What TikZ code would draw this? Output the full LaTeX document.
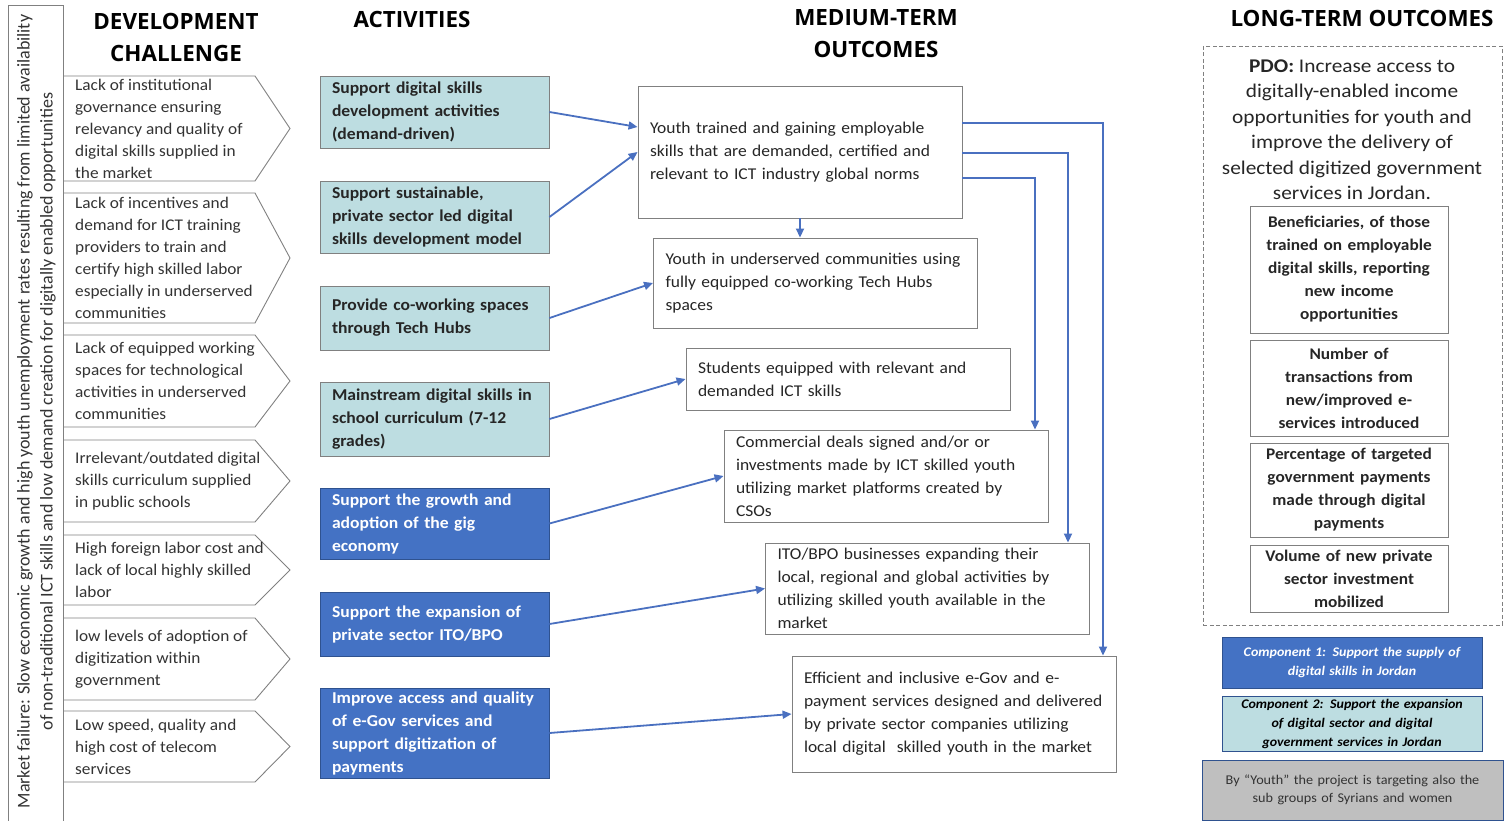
\documentclass[tikz,border=0pt]{standalone}
\usepackage{fontspec}
\setmainfont{Carlito}[FakeStretch=1.06]
\newfontfamily\plainfont{Carlito}
\newfontfamily\hdrfont{Open Sans}
\newfontfamily\widefont{Carlito}[FakeStretch=1.1]
\usetikzlibrary{arrows.meta}
\definecolor{tealfill}{HTML}{BDDDE1}
\definecolor{bluefill}{HTML}{4472C4}
\definecolor{blueedge}{HTML}{2F528F}
\definecolor{arrblue}{HTML}{4A70C0}
\definecolor{txtgray}{HTML}{333333}
\definecolor{txtdark}{HTML}{262626}
\definecolor{edgegray}{HTML}{808080}
\definecolor{notefill}{HTML}{BFBFBF}
\begin{document}
\begin{tikzpicture}[x=1pt,y=-1pt,
  hdr/.style={font=\hdrfont\bfseries\fontsize{22.4}{32}\selectfont, align=center, inner sep=0pt},
  chev/.style={draw=edgegray, line width=0.9pt},
  chtext/.style={align=left, inner xsep=12pt, inner ysep=0pt, text=txtgray, font=\fontsize{16.3}{22}\selectfont},
  act/.style={draw=edgegray, line width=0.9pt, fill=tealfill, minimum width=229pt, text width=205pt, align=left, inner xsep=12pt, inner ysep=0pt, text=txtdark, font=\bfseries\fontsize{16.6}{23}\selectfont},
  actb/.style={act, fill=bluefill, draw=blueedge, text=white},
  med/.style={draw=edgegray, line width=0.9pt, fill=white, text width=300pt, align=left, inner xsep=12pt, inner ysep=0pt, text=txtdark, font=\fontsize{16.5}{23}\selectfont},
  ind/.style={draw=edgegray, line width=0.9pt, minimum width=198pt, text width=194pt, align=center, inner sep=0pt, text=txtdark, font=\bfseries\fontsize{16.3}{23}\selectfont},
  comp/.style={draw=blueedge, line width=0.9pt, minimum width=260pt, text width=256pt, align=center, inner sep=0pt, font=\bfseries\itshape\fontsize{13.2}{19}\selectfont},
  arr/.style={draw=arrblue, line width=1.8pt, -{Triangle[length=9pt,width=8pt]}}
]
\useasboundingbox (0,0) rectangle (1509,821);

% headers
\node[hdr] (h1) at (176,37.5) {DEVELOPMENT\\CHALLENGE};
\node[hdr] (h2) at (412,20) {ACTIVITIES};
\node[hdr] (h3) at (876,34) {MEDIUM-TERM\\OUTCOMES};
\node[hdr] (h4) at (1362,18) {LONG-TERM OUTCOMES};

% market failure box
\node[draw=edgegray, line width=0.9pt, minimum width=55pt, minimum height=830pt, anchor=north west, inner sep=0pt] (mf) at (8,5) {};
\node[rotate=90, align=center, text=txtgray, font=\plainfont\fontsize{18}{23}\selectfont, inner sep=0pt] (mftext) at (36.5,411.5)
 {Market failure: Slow economic growth and high youth unemployment rates resulting from limited availability\\of non-traditional ICT skills and low demand creation for digitally enabled opportunities};

% chevrons
\foreach \t/\b in {76/181,193/323,335/427,440/522,535/605,618/700,711/782}{
  \draw[chev] (63,\t) -- (255,\t) -- (290,{(\t+\b)/2}) -- (255,\b) -- (63,\b);
}
\node[chtext, anchor=west] (c1) at (63,128.5) {Lack of institutional\\governance ensuring\\relevancy and quality of\\digital skills supplied in\\the market};
\node[chtext, anchor=west] (c2) at (63,258) {Lack of incentives and\\demand for ICT training\\providers to train and\\certify high skilled labor\\especially in underserved\\communities};
\node[chtext, anchor=west] (c3) at (63,381) {Lack of equipped working\\spaces for technological\\activities in underserved\\communities};
\node[chtext, anchor=west] (c4) at (63,481) {Irrelevant/outdated digital\\skills curriculum supplied\\in public schools};
\node[chtext, anchor=west] (c5) at (63,570) {High foreign labor cost and\\lack of local highly skilled\\labor};
\node[chtext, anchor=west] (c6) at (63,659) {low levels of adoption of\\digitization within\\government};
\node[chtext, anchor=west] (c7) at (63,746.5) {Low speed, quality and\\high cost of telecom\\services};

% activities
\node[act, minimum height=72pt] (a1) at (434.5,112) {Support digital skills\\development activities\\(demand-driven)};
\node[act, minimum height=72pt] (a2) at (434.5,217) {Support sustainable,\\private sector led digital\\skills development model};
\node[act, minimum height=64pt] (a3) at (434.5,318) {Provide co-working spaces\\through Tech Hubs};
\node[act, minimum height=74pt] (a4) at (434.5,419) {Mainstream digital skills in\\school curriculum (7-12\\grades)};
\node[actb, minimum height=71pt] (a5) at (434.5,523.5) {Support the growth and\\adoption of the gig\\economy};
\node[actb, minimum height=64pt] (a6) at (434.5,624) {Support the expansion of\\private sector ITO/BPO};
\node[actb, minimum height=90pt] (a7) at (434.5,733) {Improve access and quality\\of e-Gov services and\\support digitization of\\payments};

% medium-term outcomes
\node[med, minimum width=324pt, minimum height=132pt] (m1) at (800,152) {Youth trained and gaining employable\\skills that are demanded, certified and\\relevant to ICT industry global norms};
\node[med, minimum width=323pt, minimum height=90pt] (m2) at (815.5,283) {Youth in underserved communities using\\fully equipped co-working Tech Hubs\\spaces};
\node[med, minimum width=324pt, minimum height=62pt] (m3) at (848,379) {Students equipped with relevant and\\demanded ICT skills};
\node[med, minimum width=324pt, minimum height=92pt] (m4) at (886,476) {Commercial deals signed and/or or\\investments made by ICT skilled youth\\utilizing market platforms created by\\CSOs};
\node[med, minimum width=323pt, minimum height=91pt] (m5) at (927.5,588.5) {ITO/BPO businesses expanding their\\local, regional and global activities by\\utilizing skilled youth available in the\\market};
\node[med, minimum width=324pt, minimum height=116pt] (m6) at (954,714) {Efficient and inclusive e-Gov and e-\\payment services designed and delivered\\by private sector companies utilizing\\local digital\ \ skilled youth in the market};

% arrows activities -> outcomes
\draw[arr] (a1.east) -- ([yshift=25pt]m1.west);
\draw[arr] (a2.east) -- (m1.west);
\draw[arr] (a3.east) -- (m2.west);
\draw[arr] (a4.east) -- (m3.west);
\draw[arr] (a5.east) -- (m4.west);
\draw[arr] (a6.east) -- (m5.west);
\draw[arr] (a7.east) -- (m6.west);
\draw[arr] (m1.south) -- (m1.south |- m2.north);
\coordinate (r1) at (1103,123);
\coordinate (r2) at (1068,153);
\coordinate (r3) at (1035,178);
\draw[arr] (m1.east |- r1) -| (m6.north -| r1);
\draw[arr] (m1.east |- r2) -| (m5.north -| r2);
\draw[arr] (m1.east |- r3) -| (m4.north -| r3);

% long-term outcomes
\node[draw=edgegray, line width=0.9pt, dash pattern=on 4pt off 2.5pt, minimum width=299pt, minimum height=579pt, anchor=north west, inner sep=0pt] (lt) at (1203,46) {};
\node[align=center, text=txtdark, inner sep=0pt, font=\widefont\fontsize{19.4}{25.5}\selectfont] (pdo) at (1352,129.5)
 {\textbf{PDO:} Increase access to\\digitally-enabled income\\opportunities for youth and\\improve the delivery of\\selected digitized government\\services in Jordan.};
\node[ind, minimum height=127pt] (i1) at (1349,269.5) {Beneficiaries, of those\\trained on employable\\digital skills, reporting\\new income\\opportunities};
\node[ind, minimum height=96pt] (i2) at (1349,388) {Number of\\transactions from\\new/improved e-\\services introduced};
\node[ind, minimum height=94pt] (i3) at (1349,490) {Percentage of targeted\\government payments\\made through digital\\payments};
\node[ind, minimum height=67pt] (i4) at (1349,578.5) {Volume of new private\\sector investment\\mobilized};

% components
\node[comp, fill=bluefill, text=white, minimum height=51pt] (cp1) at (1352,662.5) {Component 1: Support the supply of\\digital skills in Jordan};
\node[comp, fill=tealfill, text=black, minimum height=55pt] (cp2) at (1352,723.5) {Component 2: Support the expansion\\of digital sector and digital\\government services in Jordan};
\node[draw=blueedge, line width=0.9pt, fill=notefill, minimum width=301pt, minimum height=60pt, text width=297pt, align=center, inner sep=0pt, text=txtgray, font=\fontsize{13.4}{18}\selectfont] (note) at (1352.5,790)
 {By “Youth” the project is targeting also the\\sub groups of Syrians and women};
\end{tikzpicture}
\end{document}
